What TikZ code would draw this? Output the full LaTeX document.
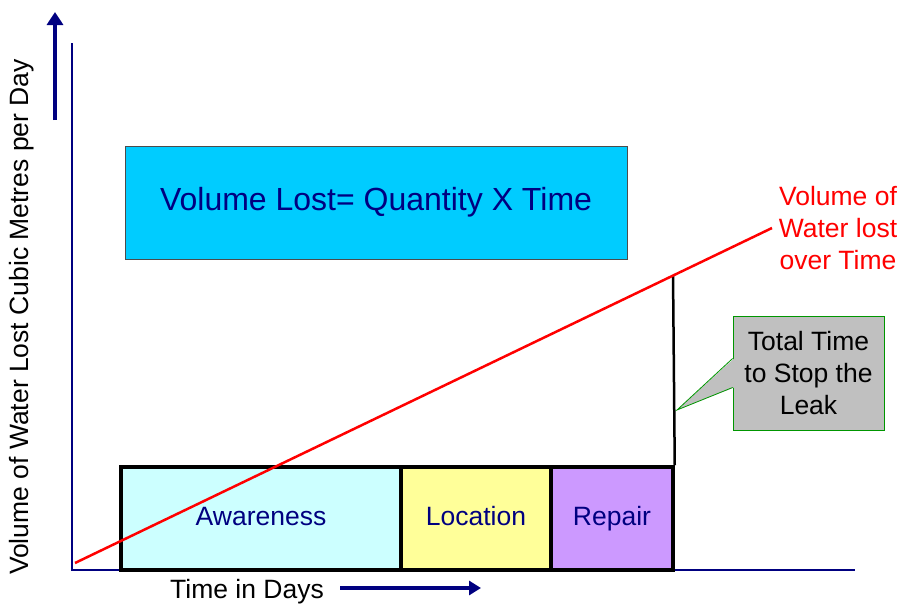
\documentclass[tikz,border=0pt]{standalone}
\usepackage{fontspec}
\setmainfont{Liberation Sans}
\usetikzlibrary{shapes.callouts,arrows.meta,calc}
\definecolor{axisblue}{RGB}{0,0,128}
\definecolor{lostcyan}{RGB}{0,204,255}
\definecolor{awarecol}{RGB}{204,255,255}
\definecolor{locatecol}{RGB}{255,255,153}
\definecolor{repaircol}{RGB}{204,153,255}
\definecolor{calloutgray}{RGB}{192,192,192}
\definecolor{calloutgreen}{RGB}{0,150,0}
\begin{document}
\begin{tikzpicture}
[x=1pt,y=-1pt,
every node/.style={font=\fontsize{26.5}{32}\selectfont},
axis/.style={draw=axisblue,line width=2.2pt},
bigarrow/.style={draw=axisblue,line width=4.5pt,-{Triangle[width=16pt,length=13pt]}},
phase/.style={draw=black,line width=3.5pt,minimum height=103pt,inner sep=0pt,text=axisblue,
  text height=19pt,text depth=5pt}]
\useasboundingbox (0,0) rectangle (903,605);
% axes
\coordinate (origin) at (72,570);
\coordinate (ytop) at (72,43);
\coordinate (xend) at (855,570);
\draw[axis] (ytop) -- (origin) -- (xend);
\node[rotate=90] (ylabel) at (22,317) {Volume of Water Lost Cubic Metres per Day};
\coordinate (upfrom) at (55,120);
\coordinate (upto) at (55,12);
\draw[bigarrow] (upfrom) -- (upto);
\node (xlabel) at (247,592) {Time in Days};
\coordinate (rightfrom) at (340,588);
\coordinate (rightto) at (481,588);
\draw[bigarrow,line width=3.5pt,-{Triangle[width=14pt,length=12pt]}] (rightfrom) -- (rightto);
% formula box
\node[draw=black!70,line width=0.8pt,fill=lostcyan,minimum width=502pt,minimum height=113pt,
  text=axisblue,font=\fontsize{32}{38}\selectfont] (formula) at (376,202.5) {Volume Lost= Quantity X Time};
% phases
\node[phase,fill=awarecol,minimum width=280pt] (aware) at (261,518.5) {Awareness};
\node[phase,fill=locatecol,minimum width=150pt] (locate) at (476,518.5) {Location};
\node[phase,fill=repaircol,minimum width=122pt] (repair) at (612,518.5) {Repair};
% loss line
\node[text=red,align=center] (losslabel) at (838,228) {Volume of\\Water lost\\over Time};
\coordinate (lossstart) at (75,563);
\coordinate (lossend) at (772,228);
\coordinate (stop) at ($(lossstart)!0.858!(lossend)$);
\draw[black,line width=2.5pt] (repair.north east) -- (stop);
\draw[red,line width=2.5pt] (lossstart) -- (lossend);
% callout
\coordinate (leakpt) at (677,410);
\node[draw=calloutgreen,fill=calloutgray,line width=0.8pt,minimum width=151pt,minimum height=114pt,
  align=center] (total) at (808.5,373) {Total Time\\to Stop the\\Leak};
\fill[calloutgray] ($(total.west)+(1.5,-14.5)$) -- (leakpt) -- ($(total.west)+(1.5,14.5)$) -- cycle;
\draw[calloutgreen,line width=0.8pt] ($(total.west)+(0,-14.5)$) -- (leakpt) -- ($(total.west)+(0,14.5)$);
\end{tikzpicture}
\end{document}
